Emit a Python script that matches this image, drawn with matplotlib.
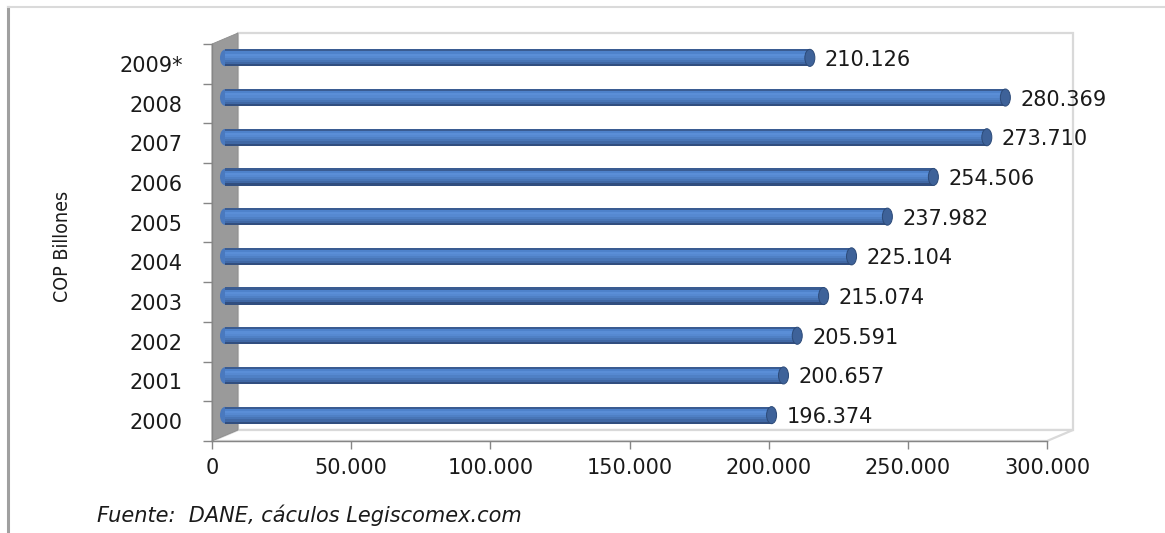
"""
Colombia GDP (COP billones), 2000-2009*, drawn as an Excel-style 3D cylinder bar chart.
"""

import matplotlib

matplotlib.use("Agg")
import matplotlib.pyplot as plt
import matplotlib.transforms as mtransforms
from matplotlib.lines import Line2D
from matplotlib.patches import Ellipse, Polygon, Rectangle
import numpy as np


YEARS = ["2000", "2001", "2002", "2003", "2004", "2005", "2006", "2007", "2008", "2009*"]
VALUES = [196374, 200657, 205591, 215074, 225104, 237982, 254506, 273710, 280369, 210126]
VALUE_LABELS = ["196.374", "200.657", "205.591", "215.074", "225.104",
                "237.982", "254.506", "273.710", "280.369", "210.126"]
X_TICKS = [0, 50000, 100000, 150000, 200000, 250000, 300000]
X_TICK_LABELS = ["0", "50.000", "100.000", "150.000", "200.000", "250.000", "300.000"]
Y_LABEL = "COP Billones"
SOURCE = "Fuente:  DANE, cáculos Legiscomex.com"

W, H, DPI = 1165, 533, 100
DEPTH = (26, 11)      # back wall offset, pixels
BAR_SHIFT = (13, 6)   # bars sit half way into the depth
BAR_H = 0.43
CAP_W = 3600          # end cap width in data units

# cylinder shading, top to bottom
SHADES = ["#3A5C92", "#4E82CB", "#5A8ED7", "#5689D1", "#4F80C5",
          "#4875B6", "#4068A5", "#314E7F"]

AXIS_GREY = "#868686"
TEXT = "#1a1a1a"

fig = plt.figure(figsize=(W / DPI, H / DPI), dpi=DPI)
ax = fig.add_axes([212 / W, 1 - 441 / H, 835 / W, 397 / H])
ax.set_xlim(0, 300000)
ax.set_ylim(-0.5, len(YEARS) - 0.5)
ax.patch.set_visible(False)

# --- 3D box: back plane, floor and grey side wall (behind the bars)
depth = mtransforms.ScaledTranslation(DEPTH[0] / DPI, DEPTH[1] / DPI, fig.dpi_scale_trans)
ax.add_patch(Rectangle((0, 0), 1, 1, transform=ax.transAxes + depth, facecolor="white",
                       edgecolor="#D9D9D9", lw=1.6, zorder=0, clip_on=False))

d = np.array(DEPTH, dtype=float)
f00, f01, f10 = ax.transAxes.transform([(0, 0), (0, 1), (1, 0)])
ident = mtransforms.IdentityTransform()
ax.add_patch(Polygon([f00, f10, f10 + d, f00 + d], closed=True, transform=ident,
                     facecolor="white", edgecolor="#D9D9D9", lw=1.6, zorder=0.5, clip_on=False))
ax.add_patch(Polygon([f00, f01, f01 + d, f00 + d], closed=True, transform=ident,
                     facecolor="#9A9A9A", edgecolor="#8C8C8C", lw=0.6, zorder=1, clip_on=False))

# --- cylinders
bar_tr = ax.transData + mtransforms.ScaledTranslation(BAR_SHIFT[0] / DPI, BAR_SHIFT[1] / DPI,
                                                       fig.dpi_scale_trans)
y = np.arange(len(YEARS))
n = len(SHADES)
strip = BAR_H / n
for i, c in enumerate(SHADES):
    yc = y + BAR_H / 2 - (i + 0.5) * strip
    ax.barh(yc, VALUES, height=strip * 1.02, left=0, color=c, lw=0,
            transform=bar_tr, clip_on=False, zorder=3)

for yi, v in zip(y, VALUES):
    ax.add_patch(Ellipse((0, yi), CAP_W, BAR_H * 0.97, facecolor="#4A79BE", edgecolor="none",
                         transform=bar_tr, clip_on=False, zorder=2.9))
    ax.add_patch(Ellipse((v, yi), CAP_W, BAR_H, facecolor="#3E6299", edgecolor="#2C4A78",
                         lw=0.7, transform=bar_tr, clip_on=False, zorder=4))

label_tr = mtransforms.offset_copy(bar_tr, fig, x=15, y=-2, units="dots")
for yi, v, lab in zip(y, VALUES, VALUE_LABELS):
    ax.text(v, yi, lab, transform=label_tr, ha="left", va="center",
            fontsize=15, color=TEXT, zorder=5)

# --- axes
for side in ("top", "right"):
    ax.spines[side].set_visible(False)
for side in ("left", "bottom"):
    ax.spines[side].set_color(AXIS_GREY)
    ax.spines[side].set_linewidth(1.0)
    ax.spines[side].set_zorder(2)

ax.set_xticks(X_TICKS, X_TICK_LABELS)
ax.tick_params(axis="x", direction="out", length=6, width=1, color=AXIS_GREY,
               pad=6, labelsize=15, labelcolor=TEXT)

ax.set_yticks(y, YEARS)
ax.set_yticks(np.arange(-0.5, len(YEARS), 1.0), minor=True)
ax.tick_params(axis="y", which="major", length=0, pad=21, labelsize=15, labelcolor=TEXT)
ax.tick_params(axis="y", which="minor", direction="out", length=6.5, width=1, color=AXIS_GREY)

fig.text(62 / W, 1 - 246 / H, Y_LABEL, rotation=90, ha="center", va="center",
         fontsize=14, fontstretch="condensed", color=TEXT, family="DejaVu Sans")

fig.text(97 / W, 1 - 515 / H, SOURCE, ha="left", va="center", fontsize=15,
         style="italic", color=TEXT)

# --- outer frame of the original screenshot
fig.add_artist(Line2D([7.5 / W, 7.5 / W], [0, 1 - 7 / H], color="#A0A0A0", lw=2.2))
fig.add_artist(Line2D([8 / W, 1], [1 - 7 / H, 1 - 7 / H], color="#DADADA", lw=1.5))

fig.savefig("out.png", dpi=DPI)
